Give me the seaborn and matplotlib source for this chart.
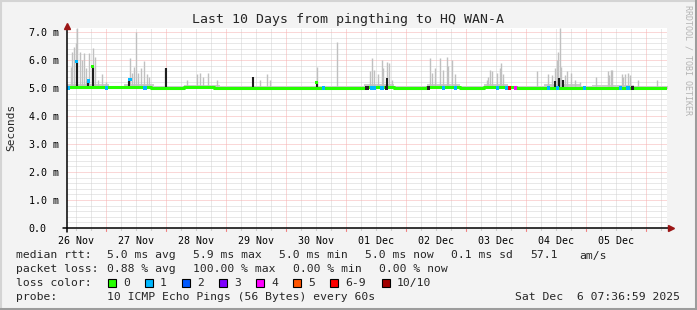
import numpy as np
import matplotlib
matplotlib.use("Agg")
import matplotlib.pyplot as plt
import seaborn as sns
from matplotlib.patches import Rectangle
from matplotlib.lines import Line2D

# ---------------- data ----------------
title = "Last 10 Days from pingthing to HQ WAN-A"
day_labels = ["26 Nov", "27 Nov", "28 Nov", "29 Nov", "30 Nov",
              "01 Dec", "02 Dec", "03 Dec", "04 Dec", "05 Dec"]
y_ticks = [0, 1, 2, 3, 4, 5, 6, 7]
y_tick_labels = ["0.0", "1.0 m", "2.0 m", "3.0 m", "4.0 m", "5.0 m", "6.0 m", "7.0 m"]

# days counted from 26 Nov 00:00; values in milliseconds
smoke_day = [0.41, 0.44, 0.47, 0.50, 0.52, 0.56, 0.60, 0.63, 0.67, 0.72, 0.79, 0.81,
             0.87, 0.94, 1.00, 1.40, 1.43, 1.47, 1.50, 1.54, 1.58, 1.63, 1.68, 1.72,
             1.99, 2.35, 2.51, 2.57, 2.62, 2.70, 2.85, 3.57, 3.68, 3.73, 4.51, 4.85,
             5.40, 5.43, 5.46, 5.53, 5.60, 5.62, 5.68, 5.71, 5.77, 6.40, 6.43, 6.48,
             6.57, 6.62, 6.68, 6.70, 6.76, 6.82, 7.35, 7.37, 7.40, 7.43, 7.51, 7.57,
             7.59, 7.62, 8.18, 8.37, 8.43, 8.48, 8.51, 8.54, 8.57, 8.59, 8.65, 8.68,
             8.75, 8.82, 8.90, 9.17, 9.36, 9.38, 9.41, 9.44, 9.60, 9.62, 9.65, 9.70,
             9.74, 9.87, 10.18]
smoke_top = [5.76, 6.30, 6.48, 6.60, 7.13, 6.30, 6.00, 6.25, 5.70, 6.24, 6.42, 6.10,
             5.30, 5.50, 5.20, 6.06, 5.55, 5.76, 7.00, 5.55, 5.70, 5.95, 5.50, 5.40,
             5.70, 5.30, 5.50, 5.55, 5.40, 5.55, 5.30, 5.30, 5.50, 5.30, 5.76, 6.65,
             5.60, 6.06, 5.65, 5.50, 6.00, 5.70, 5.94, 5.88, 5.30, 6.06, 5.55, 5.70,
             6.06, 5.65, 6.10, 5.80, 6.00, 5.50, 5.30, 5.40, 5.65, 5.60, 5.55, 5.70,
             5.88, 5.50, 5.60, 5.50, 5.45, 5.70, 6.00, 6.30, 7.13, 5.76, 5.45, 5.60,
             5.55, 5.30, 5.20, 5.40, 5.60, 5.45, 5.65, 5.65, 5.50, 5.40, 5.50, 5.55,
             5.45, 5.30, 5.30]

dark_day = [0.51, 0.70, 0.78, 1.38, 2.00, 3.45, 4.51, 5.68, 8.48, 8.55, 8.62]
dark_top = [5.94, 5.25, 5.76, 5.25, 5.70, 5.40, 5.20, 5.35, 5.25, 5.35, 5.30]

band_day = [0.35, 1.05, 1.30, 1.80, 2.30, 2.90, 5.30, 5.80, 6.35, 6.90, 7.30, 7.70,
            8.30, 8.90, 9.10, 9.80, 10.37]
band_top = [5.15, 5.06, 5.15, 5.06, 5.12, 5.06, 5.15, 5.06, 5.15, 5.06, 5.14, 5.06,
            5.15, 5.06, 5.10, 5.06, 5.06]

median_day = [0.35, 0.42, 1.00, 1.35, 1.75, 2.30, 2.80, 5.35, 5.80, 6.35, 6.90,
              7.30, 7.74, 7.83, 10.37]
median_ms = [5.03, 5.05, 5.02, 5.03, 5.00, 5.04, 5.00, 5.03, 5.00, 5.03, 5.00,
             5.02, np.nan, 5.00, 5.00]

loss_day = [0.37, 0.51, 0.71, 0.78, 1.01, 1.40, 1.65, 4.51, 4.62, 5.43, 5.47, 5.60,
            6.62, 6.82, 7.53, 7.68, 7.73, 7.83, 8.37, 8.53, 8.98, 9.57, 9.70,
            5.35, 5.68, 6.38, 9.78]
loss_ms = [5.0, 5.94, 5.25, 5.76, 5.0, 5.3, 5.0, 5.2, 5.0, 5.0, 5.0, 5.0,
           5.0, 5.0, 5.0, 5.0, 5.0, 5.0, 5.0, 5.0, 5.0, 5.0, 5.0,
           5.0, 5.0, 5.0, 5.0]
loss_level = [1, 1, 1, 0, 1, 1, 1, 0, 1, 1, 1, 1,
              1, 1, 1, 1, 6, 4, 1, 1, 1, 1, 1,
              9, 9, 9, 9]

loss_names = ["0", "1", "2", "3", "4", "5", "6-9", "10/10"]
loss_colors = ["#26ff00", "#00b8ff", "#0059ff", "#7e00ff", "#ff00ff",
               "#ff5500", "#ff0000", "#a10000"]

legend_rows = [
    [(16, "median rtt:"), (107, "5.0 ms avg"), (193, "5.9 ms max"), (279, "5.0 ms min"),
     (365, "5.0 ms now"), (451, "0.1 ms sd"), (530, "57.1"), (579, "am/s")],
    [(16, "packet loss:"), (107, "0.88 % avg"), (193, "100.00 % max"),
     (293, "0.00 % min"), (379, "0.00 % now")],
]
probe_text = "10 ICMP Echo Pings (56 Bytes) every 60s"
date_text = "Sat Dec  6 07:36:59 2025"

# ---------------- drawing ----------------
W, H = 697, 310
sns.set_style("white")
plt.rcParams["font.family"] = ["DejaVu Sans Mono"]
plt.rcParams["lines.scale_dashes"] = True

BACK = "#f3f3f3"
fig = plt.figure(figsize=(W / 100, H / 100), dpi=100, facecolor=BACK)


def fx(px):
    return px / W


def fy(py):
    return 1 - py / H


x0, x1 = 67, 667
y0, y1 = 28, 228
ax = fig.add_axes([fx(x0), fy(y1), (x1 - x0) / W, (y1 - y0) / H])
ax.set_facecolor("#ffffff")
xmin, xmax = 0.35, 0.35 + 10.0
ymin, ymax = 0.0, (y1 - y0) / 28.0
ax.set_xlim(xmin, xmax)
ax.set_ylim(ymin, ymax)

for s in ax.spines.values():
    s.set_visible(False)

# grid
for d in np.arange(0.5, 10.5, 0.25):
    if abs(d - round(d)) < 1e-6:
        continue
    ax.axvline(d, color="#d2d2d2", lw=0.72, ls=(0, (1, 1)), zorder=0.5)
for v in np.arange(0.2, 7.2, 0.2):
    if abs(v - round(v)) < 1e-6:
        continue
    ax.axhline(v, color="#d2d2d2", lw=0.72, ls=(0, (1, 1)), zorder=0.5)
for d in range(1, 11):
    ax.axvline(d, color="#f7b0b0", lw=0.72, ls=(0, (1, 1)), zorder=0.6)
for v in range(1, 8):
    ax.axhline(v, color="#f7b0b0", lw=0.72, ls=(0, (1, 1)), zorder=0.6)

# smoke base band
ax.fill_between(band_day, 4.98, band_top, step="post", color="#cccccc", lw=0, zorder=1)
# smoke spikes
ax.vlines(smoke_day, 5.0, smoke_top, color="#c0c0c0", lw=1.0, zorder=1.2)
ax.vlines(dark_day, 5.0, dark_top, color="#1e1e1e", lw=1.5, zorder=1.4)

# median line
sns.lineplot(x=median_day, y=median_ms, drawstyle="steps-post", color=loss_colors[0],
             lw=2.2, ax=ax, zorder=2)
# loss coloured median pieces
loss_col = [loss_colors[i] if i < 6 else (loss_colors[6] if i < 10 else loss_colors[7])
            for i in loss_level]
loss_col = [("#222222" if lv == 9 else c) for lv, c in zip(loss_level, loss_col)]
sns.scatterplot(x=loss_day, y=loss_ms, c=loss_col, marker="s", s=5, linewidth=0,
                ax=ax, zorder=3)

# ticks
ax.set_yticks(y_ticks)
ax.set_yticklabels(y_tick_labels)
ax.set_xticks([i + 0.5 for i in range(10)])
ax.set_xticklabels(day_labels)
ax.tick_params(axis="both", length=0, labelsize=7.2, colors="#000000")
ax.tick_params(axis="x", pad=6)
ax.tick_params(axis="y", pad=27.5)
for lab in ax.get_yticklabels():
    lab.set_horizontalalignment("left")
ax.set_xlabel("")
ax.set_ylabel("")

# axes lines with arrows
ax.plot([0.283, 10.40], [0, 0], color="black", lw=1.1, clip_on=False, zorder=5)
ax.plot([xmin, xmin], [-0.14, 7.18], color="black", lw=1.1, clip_on=False, zorder=5)
ax.plot([10.41], [0], marker=">", ms=4.5, color="#9b1515", clip_on=False, zorder=6)
ax.plot([xmin], [7.22], marker="^", ms=4.5, color="#9b1515", clip_on=False, zorder=6)
# small tick marks below axis
for d in range(1, 11):
    ax.plot([d, d], [-0.03, -0.11], color="#f08080", lw=0.8, clip_on=False, zorder=5)
for d in np.arange(0.5, 10.5, 0.25):
    if abs(d - round(d)) > 1e-6:
        ax.plot([d, d], [-0.03, -0.07], color="#c8c8c8", lw=0.8, clip_on=False, zorder=5)

# title and labels
fig.text(fx(348), fy(23.3), title, ha="center", va="baseline", fontsize=9.5)
fig.text(fx(11), fy(127), "Seconds", rotation=90, ha="center", va="center", fontsize=8)
fig.text(fx(688), fy(60), "RRDTOOL / TOBI OETIKER", rotation=270, ha="center",
         va="center", fontsize=6, color="#b4b4b4")

# legend area
LF = 8.2
baselines = [258.5, 272.3, 286.0, 299.8]
for row, bl in zip(legend_rows, baselines[:2]):
    for px, t in row:
        fig.text(fx(px), fy(bl), t, ha="left", va="baseline", fontsize=LF)

fig.text(fx(16), fy(baselines[2]), "loss color:", ha="left", va="baseline", fontsize=LF)
box_x = [108, 145, 182, 219, 256, 293, 330, 382]
for bx, name, col in zip(box_x, loss_names, loss_colors):
    fig.patches.append(Rectangle((fx(bx), fy(286.5)), 8 / W, 8 / H, transform=fig.transFigure,
                                 facecolor=col, edgecolor="black", lw=0.8))
    fig.text(fx(bx + 15), fy(baselines[2]), name, ha="left", va="baseline", fontsize=LF)

fig.text(fx(16), fy(baselines[3]), "probe:", ha="left", va="baseline", fontsize=LF)
fig.text(fx(107), fy(baselines[3]), probe_text, ha="left", va="baseline", fontsize=LF)
fig.text(fx(680), fy(baselines[3]), date_text, ha="right", va="baseline", fontsize=LF)

# 3D frame
fig.add_artist(Line2D([0, 1], [fy(0.5), fy(0.5)], transform=fig.transFigure, color="#d4d4d4", lw=1.5))
fig.add_artist(Line2D([fx(0.5), fx(0.5)], [0, 1], transform=fig.transFigure, color="#d4d4d4", lw=1.5))
fig.add_artist(Line2D([0, 1], [fy(309), fy(309)], transform=fig.transFigure, color="#9c9c9c", lw=2.2))
fig.add_artist(Line2D([fx(696), fx(696)], [0, 1], transform=fig.transFigure, color="#9c9c9c", lw=2.2))

fig.savefig("out.png", dpi=100, facecolor=BACK)
